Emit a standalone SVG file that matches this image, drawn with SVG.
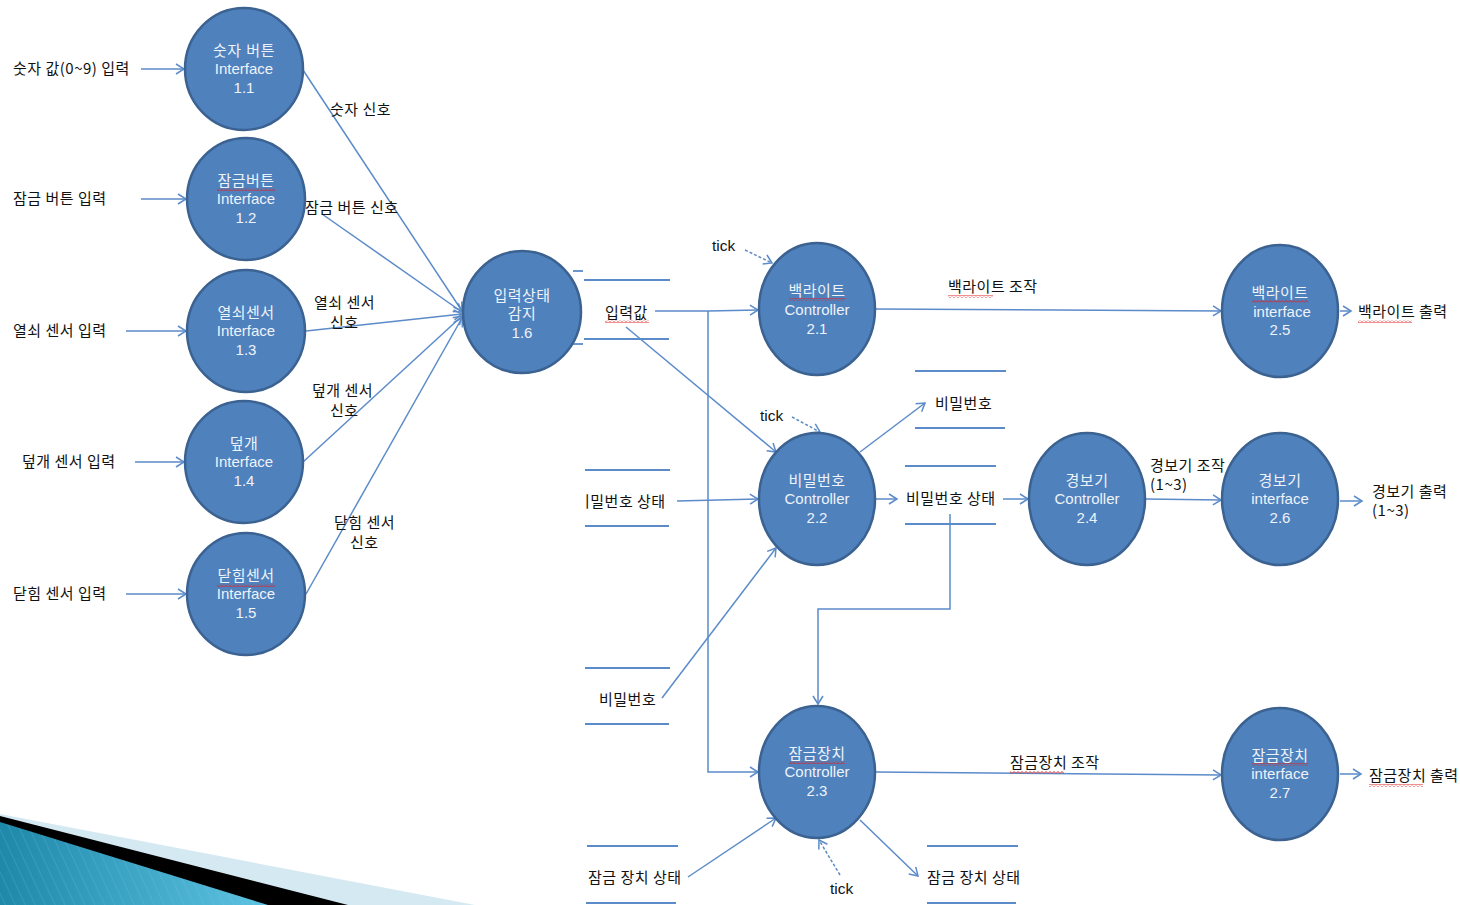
<svg xmlns="http://www.w3.org/2000/svg" width="1460" height="905" viewBox="0 0 1460 905">
  <style>
    .proc { fill: #4F81BD; stroke: #3B6291; stroke-width: 2.5; }
    .ptxt { font-family: "Liberation Sans", "Noto Sans CJK KR", sans-serif; font-size: 15px; fill: #EEF3FA; text-anchor: middle; }
    .kr { letter-spacing: 0.5px; }
    .lbl { font-family: "Noto Sans CJK KR", "Liberation Sans", sans-serif; font-size: 15px; letter-spacing: 0.5px; fill: #111; }
    .tick { font-family: "Liberation Sans", "Noto Sans CJK KR", sans-serif; font-size: 15.5px; fill: #111; }
    .flow { fill: none; stroke: #5B8BC9; stroke-width: 1.5; }
    .arr { marker-end: url(#head); }
    .dash { stroke-dasharray: 3 2; }
    .store { stroke: #5B8BC9; stroke-width: 1.8; }
    .squig { fill: url(#wave); }
  </style>
  <defs>
    <marker id="head" markerUnits="userSpaceOnUse" markerWidth="14" markerHeight="14" viewBox="-10 -7 12 14" refX="0" refY="0" orient="auto">
      <path d="M-8,-5 L0,0 L-8,5" fill="none" stroke="#5B8BC9" stroke-width="1.5"/>
    </marker>
    <pattern id="wave" patternUnits="userSpaceOnUse" width="4" height="3">
      <polyline points="0,2.5 2,0.5 4,2.5" fill="none" stroke="#E02020" stroke-width="1"/>
    </pattern>
    <pattern id="stripes" patternUnits="userSpaceOnUse" width="9" height="9" patternTransform="rotate(-25)">
      <line x1="0" y1="0" x2="0" y2="9" stroke="#8FD3EA" stroke-width="1" stroke-opacity="0.35"/>
    </pattern>
    <linearGradient id="band" x1="0" y1="0" x2="1" y2="0">
      <stop offset="0" stop-color="#1E88A8"/>
      <stop offset="1" stop-color="#5EC3E3"/>
    </linearGradient>
    <clipPath id="clipLeft">
      <rect x="585" y="480" width="100" height="40"/>
    </clipPath>
  </defs>

  <!-- corner decoration -->
  <g id="corner">
    <polygon points="0,814 475,905 0,905" fill="#D5E9F2"/>
    <polygon points="0,816 348,905 0,905" fill="#000"/>
    <polygon points="0,822 268,905 0,905" fill="url(#band)"/>
    <polygon points="0,822 268,905 0,905" fill="url(#stripes)"/>
  </g>

  <!-- data stores -->
  <g id="stores">
    <g id="store-input">
      <line class="store" x1="573" y1="271" x2="583" y2="271"/>
      <line class="store" x1="584" y1="280" x2="670" y2="280"/>
      <line class="store" x1="584" y1="339" x2="669" y2="339"/>
      <line class="store" x1="573" y1="344" x2="583" y2="344"/>
      <text class="lbl" x="605" y="318">입력값</text>
      <rect class="squig" x="605" y="320" width="44" height="3"/>
    </g>
    <g id="store-pw-state-left">
      <line class="store" x1="585" y1="470" x2="670" y2="470"/>
      <line class="store" x1="585" y1="526" x2="669" y2="526"/>
      <text class="lbl" x="576" y="507" clip-path="url(#clipLeft)">비밀번호 상태</text>
    </g>
    <g id="store-pw-left">
      <line class="store" x1="585" y1="668" x2="670" y2="668"/>
      <line class="store" x1="585" y1="724" x2="669" y2="724"/>
      <text class="lbl" x="599" y="705">비밀번호</text>
    </g>
    <g id="store-lock-left">
      <line class="store" x1="587" y1="846" x2="678" y2="846"/>
      <line class="store" x1="586" y1="903" x2="676" y2="903"/>
      <text class="lbl" x="588" y="883">잠금 장치 상태</text>
    </g>
    <g id="store-pw-upper">
      <line class="store" x1="915" y1="371" x2="1006" y2="371"/>
      <line class="store" x1="915" y1="428" x2="1005" y2="428"/>
      <text class="lbl" x="935" y="409">비밀번호</text>
    </g>
    <g id="store-pw-state-right">
      <line class="store" x1="905" y1="466" x2="996" y2="466"/>
      <line class="store" x1="905" y1="524" x2="996" y2="524"/>
      <text class="lbl" x="906" y="504">비밀번호 상태</text>
    </g>
    <g id="store-lock-right">
      <line class="store" x1="927" y1="846" x2="1018" y2="846"/>
      <line class="store" x1="927" y1="903" x2="1016" y2="903"/>
      <text class="lbl" x="927" y="883">잠금 장치 상태</text>
    </g>
  </g>

  <!-- connectors -->
  <g id="connectors">
    <!-- external inputs -->
    <line class="flow arr" x1="141" y1="69" x2="184" y2="69"/>
    <line class="flow arr" x1="141" y1="199" x2="186" y2="199"/>
    <line class="flow arr" x1="126" y1="331" x2="186" y2="331"/>
    <line class="flow arr" x1="135" y1="462" x2="184" y2="462"/>
    <line class="flow arr" x1="126" y1="594" x2="186" y2="594"/>
    <!-- interfaces to input detection -->
    <line class="flow arr" x1="303" y1="70" x2="462" y2="311"/>
    <line class="flow arr" x1="322" y1="214" x2="462" y2="312"/>
    <line class="flow arr" x1="306" y1="331" x2="462" y2="314"/>
    <line class="flow arr" x1="303" y1="462" x2="462" y2="316"/>
    <line class="flow arr" x1="306" y1="594" x2="462" y2="318"/>
    <!-- input value -->
    <polyline class="flow arr" points="655,311 708,311 758,310"/>
    <polyline class="flow arr" points="708,311 708,772 758,772"/>
    <line class="flow arr" x1="626" y1="327" x2="776" y2="452"/>
    <!-- ticks -->
    <line class="flow arr dash" x1="745" y1="250" x2="772" y2="263"/>
    <line class="flow arr dash" x1="792" y1="417" x2="820" y2="432"/>
    <line class="flow arr dash" x1="840" y1="875" x2="819" y2="840"/>
    <!-- backlight -->
    <line class="flow arr" x1="876" y1="309" x2="1221" y2="311"/>
    <line class="flow arr" x1="1340" y1="311" x2="1351" y2="311"/>
    <!-- password -->
    <line class="flow arr" x1="677" y1="501" x2="758" y2="499"/>
    <line class="flow arr" x1="662" y1="698" x2="776" y2="548"/>
    <line class="flow arr" x1="860" y1="452" x2="925" y2="403"/>
    <line class="flow arr" x1="876" y1="499" x2="897" y2="499"/>
    <line class="flow arr" x1="1003" y1="499" x2="1028" y2="499"/>
    <polyline class="flow arr" points="950,514 950,609 818,609 818,704"/>
    <!-- alarm -->
    <line class="flow arr" x1="1146" y1="499" x2="1221" y2="500"/>
    <line class="flow arr" x1="1340" y1="501" x2="1362" y2="501"/>
    <!-- lock -->
    <line class="flow arr" x1="876" y1="772" x2="1221" y2="775"/>
    <line class="flow arr" x1="1340" y1="774" x2="1361" y2="774"/>
    <line class="flow arr" x1="688" y1="877" x2="776" y2="818"/>
    <line class="flow arr" x1="860" y1="820" x2="918" y2="876"/>
  </g>

  <!-- flow labels -->
  <g id="labels">
    <text class="lbl" x="13" y="74">숫자 값(0~9) 입력</text>
    <text class="lbl" x="13" y="204">잠금 버튼 입력</text>
    <text class="lbl" x="13" y="336">열쇠 센서 입력</text>
    <text class="lbl" x="22" y="467">덮개 센서 입력</text>
    <text class="lbl" x="13" y="599">닫힘 센서 입력</text>

    <text class="lbl" x="330" y="115">숫자 신호</text>
    <text class="lbl" x="305" y="213">잠금 버튼 신호</text>
    <text class="lbl" x="314" y="308">열쇠 센서</text>
    <text class="lbl" x="330" y="328">신호</text>
    <text class="lbl" x="312" y="396">덮개 센서</text>
    <text class="lbl" x="330" y="416">신호</text>
    <text class="lbl" x="334" y="528">닫힘 센서</text>
    <text class="lbl" x="350" y="548">신호</text>

    <text class="tick" x="712" y="251">tick</text>
    <text class="tick" x="760" y="421">tick</text>
    <text class="tick" x="830" y="894">tick</text>

    <text class="lbl" x="948" y="292">백라이트 조작</text>
    <rect class="squig" x="948" y="295" width="45" height="3"/>
    <text class="lbl" x="1358" y="317">백라이트 출력</text>
    <rect class="squig" x="1358" y="320" width="54" height="3"/>

    <text class="lbl" x="1150" y="471">경보기 조작</text>
    <text class="lbl" x="1150" y="490">(1~3)</text>
    <text class="lbl" x="1372" y="497">경보기 출력</text>
    <text class="lbl" x="1372" y="516">(1~3)</text>

    <text class="lbl" x="1010" y="768">잠금장치 조작</text>
    <rect class="squig" x="1010" y="771" width="54" height="3"/>
    <text class="lbl" x="1369" y="781">잠금장치 출력</text>
    <rect class="squig" x="1369" y="784" width="54" height="3"/>
  </g>

  <!-- processes -->
  <g id="p1-1">
    <ellipse class="proc" cx="244" cy="69" rx="59" ry="61"/>
    <text class="ptxt kr" x="244" y="56">숫자 버튼</text>
    <text class="ptxt" x="244" y="74">Interface</text>
    <text class="ptxt" x="244" y="93">1.1</text>
  </g>
  <g id="p1-2">
    <ellipse class="proc" cx="246" cy="199" rx="59" ry="61"/>
    <text class="ptxt kr" x="246" y="186">잠금버튼</text>
    <rect class="squig" x="217" y="188" width="58" height="3"/>
    <text class="ptxt" x="246" y="204">Interface</text>
    <text class="ptxt" x="246" y="223">1.2</text>
  </g>
  <g id="p1-3">
    <ellipse class="proc" cx="246" cy="331" rx="59" ry="61"/>
    <text class="ptxt kr" x="246" y="318">열쇠센서</text>
    <text class="ptxt" x="246" y="336">Interface</text>
    <text class="ptxt" x="246" y="355">1.3</text>
  </g>
  <g id="p1-4">
    <ellipse class="proc" cx="244" cy="462" rx="59" ry="61"/>
    <text class="ptxt kr" x="244" y="449">덮개</text>
    <text class="ptxt" x="244" y="467">Interface</text>
    <text class="ptxt" x="244" y="486">1.4</text>
  </g>
  <g id="p1-5">
    <ellipse class="proc" cx="246" cy="594" rx="59" ry="61"/>
    <text class="ptxt kr" x="246" y="581">닫힘센서</text>
    <rect class="squig" x="217" y="584" width="58" height="3"/>
    <text class="ptxt" x="246" y="599">Interface</text>
    <text class="ptxt" x="246" y="618">1.5</text>
  </g>
  <g id="p1-6">
    <ellipse class="proc" cx="522" cy="312" rx="59" ry="61"/>
    <text class="ptxt kr" x="522" y="301">입력상태</text>
    <text class="ptxt kr" x="522" y="319">감지</text>
    <text class="ptxt" x="522" y="338">1.6</text>
  </g>
  <g id="p2-1">
    <ellipse class="proc" cx="817" cy="309" rx="58" ry="66"/>
    <text class="ptxt kr" x="817" y="296">백라이트</text>
    <rect class="squig" x="789" y="298" width="56" height="3"/>
    <text class="ptxt" x="817" y="315">Controller</text>
    <text class="ptxt" x="817" y="334">2.1</text>
  </g>
  <g id="p2-2">
    <ellipse class="proc" cx="817" cy="499" rx="58" ry="66"/>
    <text class="ptxt kr" x="817" y="486">비밀번호</text>
    <text class="ptxt" x="817" y="504">Controller</text>
    <text class="ptxt" x="817" y="523">2.2</text>
  </g>
  <g id="p2-3">
    <ellipse class="proc" cx="817" cy="772" rx="58" ry="66"/>
    <text class="ptxt kr" x="817" y="759">잠금장치</text>
    <rect class="squig" x="789" y="761" width="56" height="3"/>
    <text class="ptxt" x="817" y="777">Controller</text>
    <text class="ptxt" x="817" y="796">2.3</text>
  </g>
  <g id="p2-4">
    <ellipse class="proc" cx="1087" cy="499" rx="58" ry="66"/>
    <text class="ptxt kr" x="1087" y="486">경보기</text>
    <text class="ptxt" x="1087" y="504">Controller</text>
    <text class="ptxt" x="1087" y="523">2.4</text>
  </g>
  <g id="p2-5">
    <ellipse class="proc" cx="1280" cy="311" rx="58" ry="66"/>
    <text class="ptxt kr" x="1280" y="298">백라이트</text>
    <rect class="squig" x="1252" y="300" width="56" height="3"/>
    <text class="ptxt" x="1282" y="317">interface</text>
    <text class="ptxt" x="1280" y="335">2.5</text>
  </g>
  <g id="p2-6">
    <ellipse class="proc" cx="1280" cy="499" rx="58" ry="66"/>
    <text class="ptxt kr" x="1280" y="486">경보기</text>
    <text class="ptxt" x="1280" y="504">interface</text>
    <text class="ptxt" x="1280" y="523">2.6</text>
  </g>
  <g id="p2-7">
    <ellipse class="proc" cx="1280" cy="774" rx="58" ry="66"/>
    <text class="ptxt kr" x="1280" y="761">잠금장치</text>
    <rect class="squig" x="1252" y="763" width="56" height="3"/>
    <text class="ptxt" x="1280" y="779">interface</text>
    <text class="ptxt" x="1280" y="798">2.7</text>
  </g>
</svg>
